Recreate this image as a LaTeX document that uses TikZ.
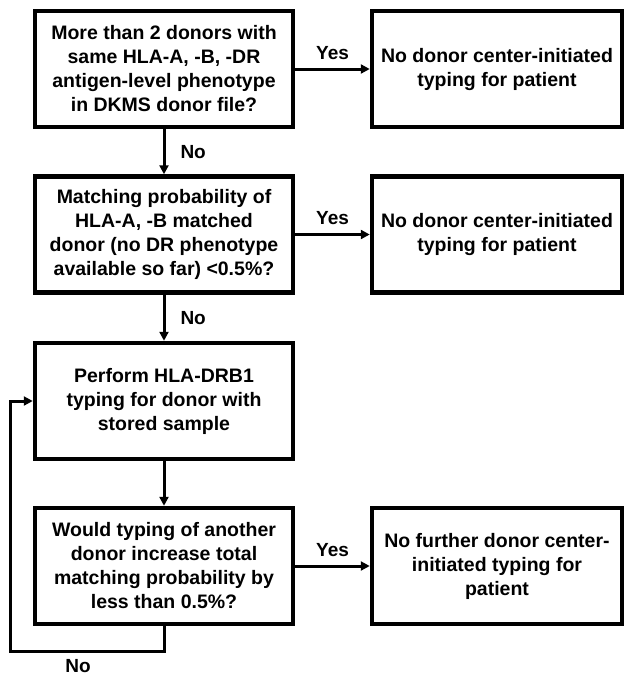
\documentclass[tikz,border=0pt]{standalone}
\usepackage{fontspec}
\setmainfont{Liberation Sans}
\usetikzlibrary{arrows.meta}
\begin{document}
\begin{tikzpicture}[x=1pt,y=-1pt,
  box/.style={draw, line width=4.5pt, minimum height=116pt, align=center, inner sep=0pt,
    font=\fontsize{19.5}{24}\selectfont\bfseries},
  lbox/.style={box, minimum width=258pt},
  rbox/.style={box, minimum width=250pt},
  conn/.style={line width=3pt, -{Triangle[length=9pt,width=9pt]}},
  lab/.style={font=\fontsize{19}{22}\selectfont\bfseries, inner sep=0pt}]
\useasboundingbox (0,0) rectangle (624,675);
\node[lbox] (q1) at (164,69) {More than 2 donors with\\same HLA-A, -B, -DR\\antigen-level phenotype\\in DKMS donor file?};
\node[rbox] (r1) at (497,69) {No donor center-initiated\\typing for patient};
\node[lbox] (q2) at (164,234.5) {Matching probability of\\HLA-A, -B matched\\donor (no DR phenotype\\available so far) <0.5\%?};
\node[rbox] (r2) at (497,234.5) {No donor center-initiated\\typing for patient};
\node[lbox] (p3) at (164,401) {Perform HLA-DRB1\\typing for donor with\\stored sample};
\node[lbox] (q4) at (164,566) {Would typing of another\\donor increase total\\matching probability by\\less than 0.5\%?};
\node[rbox] (r4) at (497,566) {No further donor center-\\initiated typing for\\patient};
\draw[conn] (q1.east) -- node[lab, above=8pt] {Yes} (r1.west);
\draw[conn] (q2.east) -- node[lab, above=8pt] {Yes} (r2.west);
\draw[conn] (q4.east) -- node[lab, above=8pt] {Yes} (r4.west);
\draw[conn] (q1.south) -- node[lab, right=15pt] {No} (q2.north);
\draw[conn] (q2.south) -- node[lab, right=15pt] {No} (p3.north);
\draw[conn] (p3.south) -- (q4.north);
\coordinate (c1) at (164,651);
\coordinate (c2) at (10,651);
\coordinate (c3) at (10,401);
\draw[conn, line join=miter] (q4.south) -- (c1) -- (c2) -- (c3) -- (p3.west);
\node[lab] (no3) at (78,666) {No};
\end{tikzpicture}
\end{document}
